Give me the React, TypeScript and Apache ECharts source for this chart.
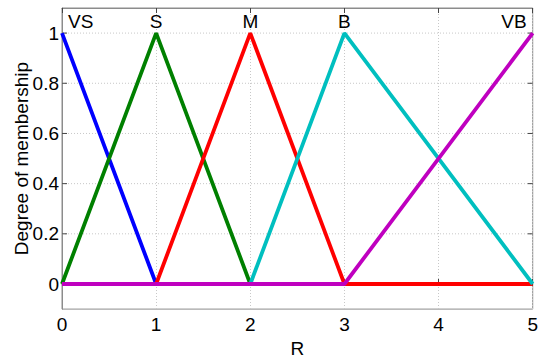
import React, { useEffect, useRef } from "react";
import * as echarts from "echarts";

// Triangular / ramp membership functions over R in [0, 5]
const vsPoints: number[][] = [[0, 1], [1, 0], [5, 0]];
const sPoints: number[][] = [[0, 0], [1, 1], [2, 0], [5, 0]];
const mPoints: number[][] = [[0, 0], [1, 0], [2, 1], [3, 0], [5, 0]];
const bPoints: number[][] = [[0, 0], [2, 0], [3, 1], [5, 0]];
const vbPoints: number[][] = [[0, 0], [3, 0], [5, 1]];

const setNames = ["VS", "S", "M", "B", "VB"];
const setPeaks = [0, 1, 2, 3, 5];
const setColors = ["#0000ff", "#008000", "#ff0000", "#00bfbf", "#bf00bf"];

const xTicks = [0, 1, 2, 3, 4, 5];
const yTicks = [0, 0.2, 0.4, 0.6, 0.8, 1];

const FONT = "'Liberation Sans', Arial, sans-serif";
const FS = 19;

export default function App() {
  const ref = useRef<HTMLDivElement>(null);

  useEffect(() => {
    document.body.style.margin = "0";
    const chart = echarts.init(ref.current!, null, { renderer: "svg" });
    const frame = "#8c8c8c";
    const gridLine = { show: true, lineStyle: { color: "#c8c8c8", type: [1, 2] as any, width: 1 } };
    const lines = [vsPoints, sPoints, mPoints, bPoints, vbPoints];

    chart.setOption({
      animation: false,
      backgroundColor: "#ffffff",
      grid: { left: 62, top: 8, right: 7, bottom: 46, show: true, borderColor: frame, borderWidth: 1 },
      xAxis: [
        {
          type: "value",
          min: 0,
          max: 5,
          interval: 1,
          name: "R",
          nameLocation: "middle",
          nameGap: 27,
          nameTextStyle: { color: "#000", fontSize: FS, fontFamily: FONT },
          axisLine: { show: true, lineStyle: { color: frame } },
          axisTick: { show: true, inside: true, length: 5, lineStyle: { color: "#444" } },
          axisLabel: { color: "#000", fontSize: FS, fontFamily: FONT, margin: 6,
            formatter: (v: number) => (xTicks.includes(v) ? String(v) : "") },
          splitLine: gridLine,
        },
        {
          type: "value",
          position: "top",
          min: 0,
          max: 5,
          interval: 1,
          axisLine: { show: true, lineStyle: { color: frame } },
          axisTick: { show: true, inside: true, length: 5, lineStyle: { color: "#444" } },
          axisLabel: { show: false },
          splitLine: { show: false },
        },
      ],
      yAxis: [
        {
          type: "value",
          min: -0.1,
          max: 1.1,
          interval: 0.2,
          name: "Degree of membership",
          nameLocation: "middle",
          nameGap: 31,
          nameTextStyle: { color: "#000", fontSize: FS, fontFamily: FONT },
          axisLine: { show: true, lineStyle: { color: frame } },
          axisTick: { show: false },
          axisLabel: { show: false },
          splitLine: { show: false },
        },
      ],
      series: lines.map((pts, i) => ({
        type: "line",
        name: setNames[i],
        data: pts,
        symbol: "none",
        lineStyle: { color: setColors[i], width: 3.8 },
        z: 3 + i,
      })),
    });

    const g: any[] = [];
    const x0 = chart.convertToPixel({ xAxisIndex: 0 }, 0) as number;
    const x1 = chart.convertToPixel({ xAxisIndex: 0 }, 5) as number;

    // y ticks, labels and dotted grid lines at 0..1 (axis range runs -0.1..1.1)
    yTicks.forEach((t) => {
      const y = chart.convertToPixel({ yAxisIndex: 0 }, t) as number;
      g.push({ type: "line", shape: { x1: x0, y1: y, x2: x1, y2: y }, style: { stroke: "#c8c8c8", lineWidth: 1, lineDash: [1, 2] }, z: 1 });
      g.push({ type: "line", shape: { x1: x0, y1: y, x2: x0 + 5, y2: y }, style: { stroke: "#444", lineWidth: 1 }, z: 2 });
      g.push({ type: "line", shape: { x1: x1 - 5, y1: y, x2: x1, y2: y }, style: { stroke: "#444", lineWidth: 1 }, z: 2 });
      g.push({
        type: "text",
        x: x0 - 3,
        y,
        style: { text: String(t), fill: "#000", font: `${FS}px ${FONT}`, textAlign: "right", textVerticalAlign: "middle" },
        z: 2,
      });
    });

    // fuzzy set names above each peak
    const labelY = chart.convertToPixel({ yAxisIndex: 0 }, 1.045) as number;
    setNames.forEach((n, i) => {
      const last = i === setNames.length - 1;
      const px = chart.convertToPixel({ xAxisIndex: 0 }, setPeaks[i]) as number;
      g.push({
        type: "text",
        x: px + (i === 0 ? 6 : last ? -6 : 0),
        y: labelY,
        style: {
          text: n,
          fill: "#000",
          font: `${FS}px ${FONT}`,
          textAlign: i === 0 ? "left" : last ? "right" : "center",
          textVerticalAlign: "middle",
        },
        z: 20,
      });
    });
    chart.setOption({ graphic: g });

    return () => chart.dispose();
  }, []);

  return <div ref={ref} style={{ position: "fixed", left: 0, top: 0, width: 541, height: 363 }} />;
}
